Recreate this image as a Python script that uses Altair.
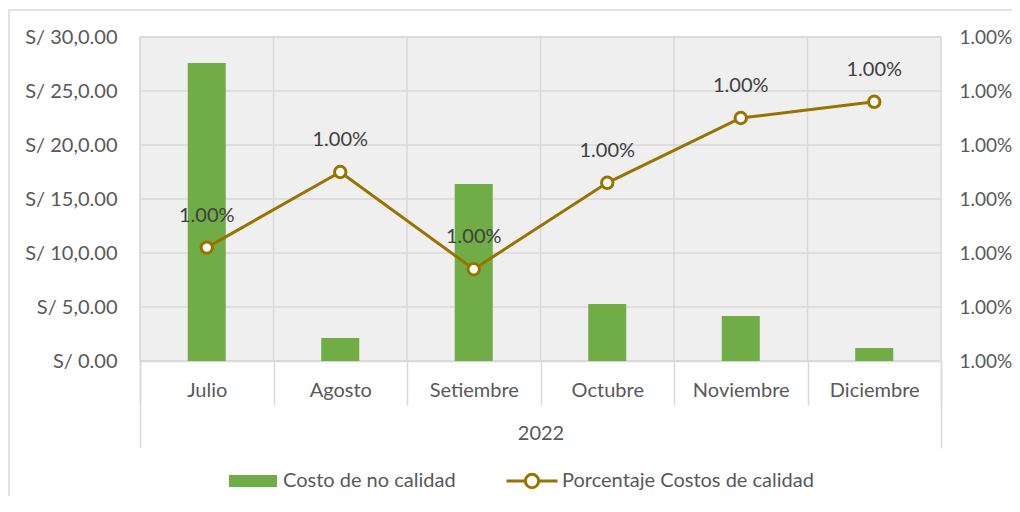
import altair as alt
import pandas as pd

# ---- data ----
meses = ["Julio", "Agosto", "Setiembre", "Octubre", "Noviembre", "Diciembre"]
costo_no_calidad = [27600, 2130, 16400, 5280, 4170, 1200]
porcentaje_costos = [0.009981, 0.009995, 0.009977, 0.009993, 0.010005, 0.010008]
anio = ["2022"]
y_left_ticks = [0, 5000, 10000, 15000, 20000, 25000, 30000]
y_right_ticks = [0.00996, 0.00997, 0.00998, 0.00999, 0.01000, 0.01001, 0.01002]
serie_barras = "Costo de no calidad"
serie_linea = "Porcentaje Costos de calidad"

# ---- styling ----
W, H = 801, 324
FONT = "Lato"
TXT = "#595959"
GRID = "#d9d9d9"
GREEN = "#70ad47"
GOLD = "#997300"
BG = "#efefef"
FS = 20

df = pd.DataFrame({"mes": meses, "costo": costo_no_calidad, "pct": porcentaje_costos,
                   "serie_b": serie_barras, "serie_l": serie_linea})
df_year = pd.DataFrame({"anio": anio})
df_one = pd.DataFrame({"k": [0]})
df_hgrid = pd.DataFrame({"v": y_left_ticks})
df_vgrid = pd.DataFrame({"mes": meses})

x_month = alt.Scale(domain=meses, paddingInner=0, paddingOuter=0)
y_left = alt.Scale(domain=[0, 30000])
y_right = alt.Scale(domain=[0.00996, 0.01002])

frame = alt.Chart(df_one).mark_rect(fillOpacity=0, stroke=GRID, strokeWidth=1.5).encode(
    x=alt.value(-131), x2=alt.value(900), y=alt.value(-27), y2=alt.value(500))

hgrid = alt.Chart(df_hgrid).mark_rule(color=GRID, strokeWidth=1.5).encode(
    y=alt.Y("v:Q", scale=y_left, axis=None))

vgrid = alt.Chart(df_vgrid).mark_rule(color=GRID, strokeWidth=1.5).encode(
    x=alt.X("mes:N", sort=meses, scale=x_month, bandPosition=0, axis=None))

year_layer = alt.Chart(df_year).mark_tick(opacity=0).encode(
    x=alt.X("anio:N", scale=alt.Scale(domain=anio, paddingInner=0, paddingOuter=0),
            axis=alt.Axis(orient="bottom", title=None, tickBand="extent", tickSize=87,
                          tickColor=GRID, tickWidth=1.5, domain=False, grid=False,
                          labelPadding=-25, labelAngle=0)))

bars = alt.Chart(df).mark_bar(width=alt.RelativeBandSize(0.285)).encode(
    x=alt.X("mes:N", sort=meses, scale=x_month,
            axis=alt.Axis(orient="bottom", title=None, tickBand="extent", tickSize=44,
                          tickColor=GRID, tickWidth=1.5, grid=False,
                          domainColor=GRID, domainWidth=1.5,
                          labelPadding=-25, labelAngle=0)),
    y=alt.Y("costo:Q", scale=y_left,
            axis=alt.Axis(orient="left", title=None, values=y_left_ticks,
                          labelExpr="datum.value == 0 ? 'S/ 0.00' : 'S/ ' + (datum.value/1000) + ',0.00'",
                          domain=False, ticks=False, grid=False, labelPadding=23)),
    fill=alt.Fill("serie_b:N", scale=alt.Scale(domain=[serie_barras], range=[GREEN]),
                  legend=alt.Legend(orient="none", legendX=89, legendY=420, title=None,
                                    symbolType="M-1,-0.25H1V0.25H-1Z", symbolSize=2304,
                                    symbolStrokeWidth=0, labelOffset=6, padding=0,
                                    labelLimit=0)))

line = alt.Chart(df).mark_line(strokeWidth=3).encode(
    x=alt.X("mes:N", sort=meses, scale=x_month, axis=None),
    y=alt.Y("pct:Q", scale=y_right,
            axis=alt.Axis(orient="right", title=None, values=y_right_ticks, format=".2%",
                          domain=False, ticks=False, grid=False, labelPadding=18,
                          labelFontSize=19)),
    stroke=alt.Stroke("serie_l:N", scale=alt.Scale(domain=[serie_linea], range=[GOLD]),
                      legend=alt.Legend(orient="none", legendX=365, legendY=417, title=None,
                                        symbolType="M-1,0H-0.26M0.26,0H1M-0.26,0A0.26,0.26 0 1,0 0.26,0A0.26,0.26 0 1,0 -0.26,0Z",
                                        symbolSize=2601, symbolStrokeWidth=3,
                                        symbolFillColor="white", symbolStrokeColor=GOLD,
                                        labelOffset=3, padding=0, labelLimit=0)))

pts = alt.Chart(df).mark_point(shape="circle", filled=True, fill="white", stroke=GOLD,
                               strokeWidth=3, size=130, opacity=1).encode(
    x=alt.X("mes:N", sort=meses, scale=x_month, axis=None),
    y=alt.Y("pct:Q", scale=y_right, axis=None))

txt = alt.Chart(df).mark_text(dy=-32, fontSize=FS, font=FONT, color="#404040").encode(
    x=alt.X("mes:N", sort=meses, scale=x_month, axis=None),
    y=alt.Y("pct:Q", scale=y_right, axis=None),
    text=alt.Text("pct:Q", format=".2%"))

chart = alt.layer(frame, hgrid, vgrid, year_layer, bars, line, pts, txt).resolve_scale(
    x="independent", y="independent", fill="independent", stroke="independent"
).properties(
    width=W, height=H, autosize="none",
    padding={"left": 132, "top": 29, "right": 71, "bottom": 135},
).configure(font=FONT).configure_view(
    fill=BG, stroke=GRID, strokeWidth=1.5
).configure_axis(
    labelFont=FONT, labelFontSize=FS, labelColor=TXT
).configure_legend(
    labelFont=FONT, labelFontSize=FS, labelColor=TXT
)

chart.save("out.html", embed_options={"renderer": "svg", "actions": False})
